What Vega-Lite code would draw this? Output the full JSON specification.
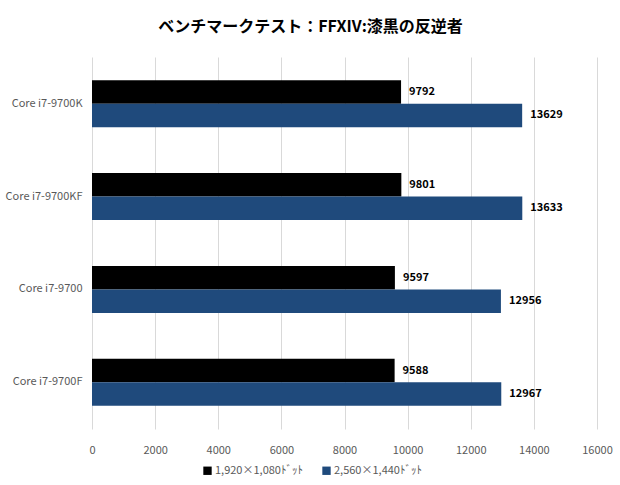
{
  "$schema": "https://vega.github.io/schema/vega-lite/v6.json",
  "autosize": {"type": "none"},
  "width": 505,
  "height": 372,
  "padding": {"left": 92, "top": 57, "right": 23, "bottom": 56},
  "background": "white",
  "title": {
    "text": "ベンチマークテスト：FFXIV:漆黒の反逆者",
    "font": "Noto Sans CJK JP",
    "fontSize": 16,
    "fontWeight": "bold",
    "color": "#000000",
    "anchor": "middle",
    "dx": -34,
    "offset": 22
  },
  "data": {
    "values": [
      {"cpu": "Core i7-9700K", "res": "1,920×1,080ﾄﾞｯﾄ", "score": 9792},
      {"cpu": "Core i7-9700K", "res": "2,560×1,440ﾄﾞｯﾄ", "score": 13629},
      {"cpu": "Core i7-9700KF", "res": "1,920×1,080ﾄﾞｯﾄ", "score": 9801},
      {"cpu": "Core i7-9700KF", "res": "2,560×1,440ﾄﾞｯﾄ", "score": 13633},
      {"cpu": "Core i7-9700", "res": "1,920×1,080ﾄﾞｯﾄ", "score": 9597},
      {"cpu": "Core i7-9700", "res": "2,560×1,440ﾄﾞｯﾄ", "score": 12956},
      {"cpu": "Core i7-9700F", "res": "1,920×1,080ﾄﾞｯﾄ", "score": 9588},
      {"cpu": "Core i7-9700F", "res": "2,560×1,440ﾄﾞｯﾄ", "score": 12967}
    ]
  },
  "encoding": {
    "y": {
      "field": "cpu", "type": "nominal", "sort": null,
      "scale": {"paddingInner": 0.495, "paddingOuter": 0.25},
      "axis": {"title": null, "domain": false, "ticks": false, "labelPadding": 10,
               "labelColor": "#595959", "labelFontSize": 11, "labelFont": "Noto Sans CJK JP"}
    },
    "yOffset": {"field": "res", "type": "nominal", "sort": null, "scale": {"paddingInner": 0, "paddingOuter": 0}},
    "x": {
      "field": "score", "type": "quantitative",
      "scale": {"domain": [0, 16000], "nice": false},
      "axis": {"title": null, "domain": false, "ticks": false, "values": [0,2000,4000,6000,8000,10000,12000,14000,16000],
               "labelOverlap": false, "labelFlush": false,
               "format": "d", "labelPadding": 15, "labelColor": "#595959", "labelFontSize": 11,
               "labelFont": "Noto Sans CJK JP", "gridColor": "#d9d9d9", "gridWidth": 1}
    }
  },
  "layer": [
    {
      "mark": {"type": "bar"},
      "encoding": {
        "color": {
          "field": "res", "type": "nominal", "sort": null,
          "scale": {"range": ["#000000", "#1f4a7c"]},
          "legend": {"title": null, "orient": "none", "direction": "horizontal", "legendX": 110, "legendY": 408,
                     "symbolType": "square", "symbolSize": 70, "symbolStrokeWidth": 0, "labelFontSize": 11,
                     "labelColor": "#595959", "labelFont": "Noto Sans CJK JP", "columnPadding": 18, "labelOffset": 2}
        }
      }
    },
    {
      "mark": {"type": "text", "align": "left", "dx": 8, "fontWeight": "bold", "fontSize": 11, "font": "Noto Sans CJK JP", "color": "#000000"},
      "encoding": {"text": {"field": "score", "type": "quantitative", "format": "d"}}
    }
  ],
  "config": {"view": {"stroke": null}}
}
